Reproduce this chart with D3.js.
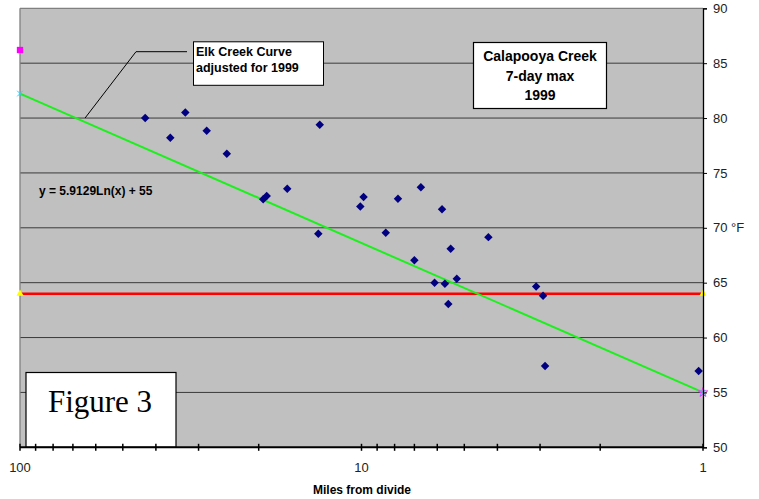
<!DOCTYPE html>
<html><head><meta charset="utf-8">
<script src="https://cdn.jsdelivr.net/npm/d3@7"></script>
<style>body{margin:0;background:#fff}svg{display:block}</style>
</head><body>
<svg id="c" width="759" height="499"></svg>
<script>
// Data
const milesFromDivide = [43.0,36.3,32.8,28.4,24.8,13.25,19.4,18.95,16.5,9.86,10.08,13.38,7.82,6.70,5.81,8.49,4.25,5.48,7.0,6.11,5.70,5.57,5.26,3.08,2.94,2.90,1.03];
const maxTemp7day   = [80.0,78.2,80.5,78.85,76.75,79.4,72.6,72.9,73.55,72.8,71.95,69.45,72.65,73.7,71.7,69.55,69.15,68.1,67.05,65.0,64.9,63.05,65.35,64.65,63.8,57.4,56.95];
const trendCoefA = 5.9129, trendCoefB = 55;
const trendX = [100, 1];
const standardX = [100, 1], standardY = [64, 64];
const elkPoint = {x: 100, y: 86.2};
const yTicks = [50,55,60,65,70,75,80,85,90];
const xMajorTicks = [100,10,1];
const xMinorTicks = [90,80,70,60,50,40,30,20,9,8,7,6,5,4,3,2];

const svg = d3.select('#c');
const L = 20, R = 703, T = 8.3, B = 447.3;
const x = d3.scaleLog().domain([100,1]).range([L,R]);
const y = d3.scaleLinear().domain([50,90]).range([B,T]);
const font = 'Arial, "Liberation Sans", sans-serif';

// plot background
svg.append('rect').attr('x',L).attr('y',T).attr('width',R-L).attr('height',B-T).attr('fill','#c0c0c0');
// gridlines
svg.append('g').selectAll('line').data(yTicks.filter(d=>d>50&&d<90)).join('line')
  .attr('x1',L).attr('x2',R).attr('y1',d=>y(d)).attr('y2',d=>y(d))
  .attr('stroke','#3a3a3a').attr('stroke-width',1);
// borders top/left
svg.append('line').attr('x1',L).attr('x2',R).attr('y1',T).attr('y2',T).attr('stroke','#808080').attr('stroke-width',1.3);
svg.append('line').attr('x1',L).attr('x2',L).attr('y1',T).attr('y2',B).attr('stroke','#808080').attr('stroke-width',1.3);

// Figure 3 box
svg.append('rect').attr('x',26).attr('y',372.5).attr('width',150).attr('height',B-372.5)
  .attr('fill','#fff').attr('stroke','#000').attr('stroke-width',1.2);
svg.append('text').attr('x',100).attr('y',412).attr('text-anchor','middle')
  .attr('font-family','"Times New Roman","Liberation Serif",serif').attr('font-size',31).text('Figure 3');

// red standard line
const line = d3.line().x(d=>x(d[0])).y(d=>y(d[1]));
svg.append('path').datum(standardX.map((d,i)=>[d,standardY[i]])).attr('d',line)
  .attr('stroke','#ff0000').attr('stroke-width',2.5).attr('fill','none');
// yellow triangles
svg.append('g').selectAll('path').data(standardX.map((d,i)=>[d,standardY[i]])).join('path')
  .attr('d',d3.symbol().type(d3.symbolTriangle).size(22)).attr('transform',d=>`translate(${x(d[0])},${y(d[1])})`)
  .attr('fill','#ffff00');

// green trend
const trend = trendX.map(v=>[v, trendCoefA*Math.log(v)+trendCoefB]);
svg.append('path').datum(trend).attr('d',line).attr('stroke','#1cf01c').attr('stroke-width',2).attr('fill','none');
// trend end markers
svg.append('path').attr('d',d3.symbol().type(d3.symbolX).size(22)).attr('transform',`translate(${x(trend[0][0])},${y(trend[0][1])})`)
  .attr('stroke','#33ccff').attr('stroke-width',1).attr('fill','none');
svg.append('path').attr('d',d3.symbol().type(d3.symbolStar).size(28)).attr('transform',`translate(${x(trend[1][0])},${y(trend[1][1])})`)
  .attr('fill','none').attr('stroke','#ff33ff').attr('stroke-width',1);
svg.append('path').attr('d',d3.symbol().type(d3.symbolX).size(20)).attr('transform',`translate(${x(trend[1][0])},${y(trend[1][1])})`)
  .attr('stroke','#33ccff').attr('stroke-width',1).attr('fill','none');

// magenta square
svg.append('path').attr('d',d3.symbol().type(d3.symbolSquare).size(40)).attr('transform',`translate(${x(elkPoint.x)},${y(elkPoint.y)})`)
  .attr('fill','#ff00ff');

// data diamonds
svg.append('g').selectAll('path').data(milesFromDivide.map((d,i)=>[d,maxTemp7day[i]])).join('path')
  .attr('d',d3.symbol().type(d3.symbolSquare).size(36))
  .attr('transform',d=>`translate(${x(d[0])},${y(d[1])}) rotate(45)`)
  .attr('fill','#000080');

// right y axis
const yAxis = svg.append('g').attr('transform',`translate(${R},0)`)
  .call(d3.axisRight(y).tickValues(yTicks).tickSize(4).tickPadding(6).tickFormat(d=>d===70?'70 °F':d));
yAxis.select('.domain').attr('stroke','#000').attr('stroke-width',1.3);
yAxis.selectAll('text').attr('font-family',font).attr('font-size',13).attr('fill','#222');

// x axis
const gx = svg.append('g');
gx.append('line').attr('x1',L).attr('x2',R).attr('y1',B).attr('y2',B).attr('stroke','#000').attr('stroke-width',2);
gx.selectAll('.tk').data(xMajorTicks.concat(xMinorTicks)).join('line').attr('class','tk')
  .attr('x1',d=>x(d)).attr('x2',d=>x(d)).attr('y1',B-3.5).attr('y2',B+3.5).attr('stroke','#000').attr('stroke-width',1.5);
gx.selectAll('text').data(xMajorTicks).join('text')
  .attr('x',d=>x(d)).attr('y',472).attr('text-anchor','middle')
  .attr('font-family',font).attr('font-size',13).attr('fill','#222').text(d=>d);
svg.append('text').attr('x',362).attr('y',494).attr('text-anchor','middle')
  .attr('font-family',font).attr('font-size',12).attr('font-weight','bold').text('Miles from divide');

// equation
svg.append('text').attr('x',39).attr('y',195).attr('font-family',font).attr('font-size',12).attr('font-weight','bold').text('y = 5.9129Ln(x) + 55');

// Elk creek annotation
svg.append('path').attr('d',`M${x(64.5)},${y(80)}L136,51.7L187,51.7`).attr('stroke','#000').attr('fill','none').attr('stroke-width',1);
svg.append('rect').attr('x',193.5).attr('y',41.8).attr('width',130).attr('height',43.5).attr('fill','#fff').attr('stroke','#000').attr('stroke-width',1);
const ek = svg.append('text').attr('font-family',font).attr('font-size',12.5).attr('font-weight','bold');
ek.append('tspan').attr('x',196).attr('y',55.5).text('Elk Creek Curve');
ek.append('tspan').attr('x',196).attr('y',72).text('adjusted for 1999');

// Calapooya box
svg.append('rect').attr('x',473.5).attr('y',42.5).attr('width',133).attr('height',66).attr('fill','#fff').attr('stroke','#000').attr('stroke-width',1.2);
const ck = svg.append('text').attr('font-family',font).attr('font-size',14).attr('font-weight','bold').attr('text-anchor','middle');
['Calapooya Creek','7-day max','1999'].forEach((t,i)=>ck.append('tspan').attr('x',540).attr('y',61+i*19.5).text(t));
</script>
</body></html>
